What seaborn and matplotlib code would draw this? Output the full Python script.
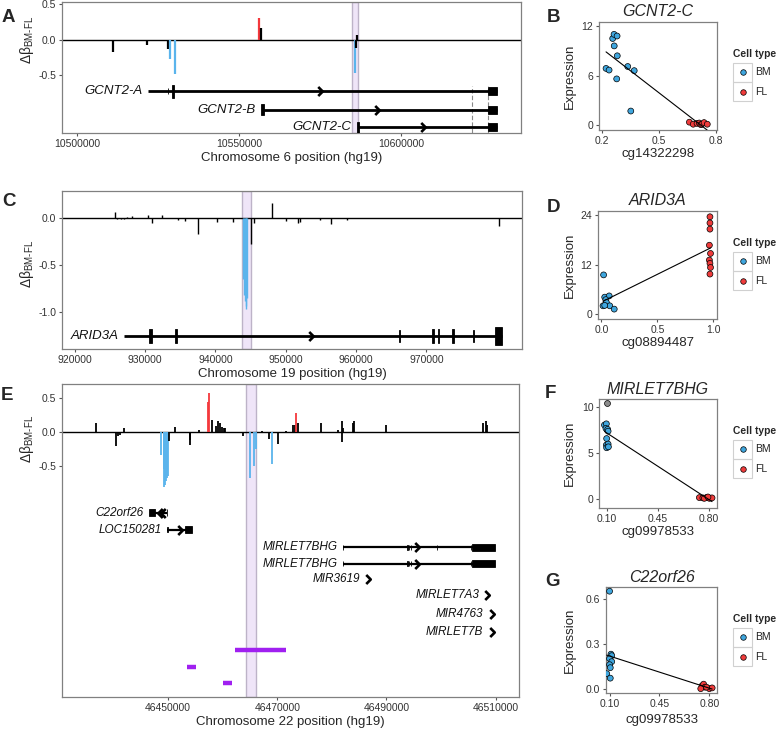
import matplotlib
matplotlib.use("Agg")
import numpy as np
import pandas as pd
import matplotlib.pyplot as plt
import seaborn as sns
from matplotlib.path import Path
from matplotlib.patches import Rectangle
from matplotlib.lines import Line2D

# ---- panel A: chr6 GCNT2 ----
a_pos = [10511100, 10521600, 10528100, 10528700, 10530200, 10556200, 10556800, 10585800, 10586100, 10586300]
a_val = [-0.17, -0.08, -0.13, -0.28, -0.48, 0.31, 0.16, -0.47, -0.12, 0.06]
a_col = ["k", "k", "k", "b", "b", "r", "k", "b", "k", "k"]
a_band = (10584900, 10586700)
a_dash = [10621800, 10626950]
a_xticks = [10500000, 10550000, 10600000]

# ---- panel C: chr19 ARID3A ----
c_pos = [925670, 926060, 926510, 926970, 927480, 928210, 930360, 930930, 932460, 934730,
         935690, 937490, 940270, 942480, 943890, 944060, 944170, 944290, 944400, 944520,
         945080, 945540, 948030, 950010, 951710, 951990, 954830, 956410, 958680, 980300]
c_val = [0.063, -0.01, -0.01, -0.01, 0.01, 0.015, 0.034, -0.05, 0.03, -0.02,
         -0.03, -0.17, -0.04, -0.04, -0.65, -0.82, -0.88, -0.93, -0.96, -0.85,
         -0.28, -0.06, 0.16, -0.03, -0.06, -0.04, -0.02, -0.07, -0.02, -0.085]
c_col = ["k"] * 14 + ["b"] * 6 + ["k"] * 10
c_band = (943780, 945030)
c_xticks = [920000, 930000, 940000, 950000, 960000, 970000]

# ---- panel E: chr22 MIRLET7BHG ----
e_pos = [46436740, 46440530, 46440900, 46441140, 46441870,
         46448780, 46449210, 46449330, 46449510, 46449690, 46449880, 46450060,
         46450180, 46451220, 46453970, 46454090, 46455680, 46457330, 46457520,
         46458070, 46458860, 46459170, 46459470, 46459960, 46460200, 46460450,
         46463630, 46465090, 46465700, 46466010, 46467230, 46468510, 46469120,
         46470220, 46471570, 46472910, 46473160, 46473340, 46473710, 46477920,
         46481040, 46481770, 46481830, 46482080, 46483910, 46484030, 46489840,
         46507750, 46508240, 46508480, 46509580]
e_val = [0.12, -0.21, -0.07, -0.05, 0.06,
         -0.35, -0.55, -0.81, -0.78, -0.72, -0.68, -0.65,
         -0.14, 0.07, -0.20, -0.12, 0.02, 0.44, 0.57,
         0.17, 0.08, 0.15, 0.13, 0.07, 0.05, 0.06,
         -0.07, -0.68, -0.50, -0.25, 0.015, -0.11, -0.47,
         -0.18, 0.01, 0.10, 0.10, 0.27, 0.12, 0.13,
         0.03, 0.15, -0.15, 0.06, 0.12, 0.16, 0.10,
         0.12, 0.15, 0.10, -0.025]
e_col = ["k"] * 5 + ["b"] * 7 + ["k"] * 5 + ["r", "r"] + ["k"] * 8 + ["b"] * 3 + ["k", "k", "b"] \
        + ["k"] * 4 + ["r"] + ["k"] * 12
e_band = (46464180, 46466190)
e_xticks = [46450000, 46470000, 46490000, 46510000]
e_purple_y = [-3.21, -3.46, -3.70]
e_purple_start = [46462230, 46453480, 46460080]
e_purple_end = [46471580, 46455200, 46461620]

# ---- scatter panels ----
b_meth_bm = [0.222, 0.238, 0.257, 0.264, 0.28, 0.265, 0.281, 0.278, 0.336, 0.37, 0.352]
b_expr_bm = [6.87, 6.67, 10.5, 11.0, 10.8, 9.6, 8.4, 5.6, 7.1, 6.6, 1.7]
b_meth_fl = [0.66, 0.68, 0.70, 0.712, 0.72, 0.725, 0.737, 0.754]
b_expr_fl = [0.35, 0.1, 0.2, 0.25, 0.05, 0.1, 0.3, 0.1]

d_meth_bm = [0.02, 0.03, 0.07, 0.04, 0.045, 0.015, 0.075, 0.115, 0.03]
d_expr_bm = [9.5, 4.1, 4.4, 3.5, 2.8, 2.0, 2.0, 1.2, 2.1]
d_meth_fl = [0.97, 0.97, 0.97, 0.965, 0.975, 0.965, 0.97, 0.975, 0.97]
d_expr_fl = [23.6, 22.1, 20.6, 16.7, 14.7, 13.1, 12.3, 11.3, 9.7]

f_meth_bm = [0.085, 0.098, 0.095, 0.107, 0.11, 0.10, 0.098, 0.11, 0.10, 0.112]
f_expr_bm = [8.07, 8.2, 7.7, 7.6, 7.4, 6.6, 5.9, 6.0, 5.6, 5.7]
f_meth_na = [0.10]
f_expr_na = [10.5]
f_meth_fl = [0.736, 0.76, 0.786, 0.805, 0.823, 0.77, 0.795]
f_expr_fl = [0.18, 0.15, 0.2, 0.1, 0.15, 0.1, 0.25]

g_meth_bm = [0.10, 0.11, 0.115, 0.10, 0.115, 0.10, 0.105, 0.08, 0.105]
g_expr_bm = [0.65, 0.23, 0.22, 0.20, 0.18, 0.16, 0.14, 0.10, 0.07]
g_meth_fl = [0.75, 0.76, 0.77, 0.80, 0.82, 0.74, 0.78]
g_expr_fl = [0.02, 0.03, 0.01, 0.0, 0.005, 0.0, 0.01]

W, H = 778, 731
sns.set_style("white")
plt.rcParams["font.family"] = ["Liberation Sans", "DejaVu Sans"]
plt.rcParams["mathtext.fontset"] = "custom"
plt.rcParams["mathtext.rm"] = "Liberation Sans"
plt.rcParams["mathtext.it"] = "Liberation Sans:italic"

purple = "#a020f0"
bar_cols = {"k": "black", "b": "#5ab4ec", "r": "#f4383c"}
pal = {"BM": "#3fa6de", "FL": "#ef3b3b"}

fig = plt.figure(figsize=(W / 100, H / 100), dpi=100)


def box(x0, y0, x1, y1):
    ax = fig.add_axes([x0 / W, 1 - y1 / H, (x1 - x0) / W, (y1 - y0) / H])
    for s in ax.spines.values():
        s.set_color("#808080")
        s.set_linewidth(0.9)
    ax.tick_params(direction="out", length=2.5, width=0.8, color="#555555",
                   labelcolor="#333333", labelsize=7.5, pad=1.5,
                   left=True, bottom=True)
    return ax


chev_r = Path([(-0.5, 1), (0.5, 0), (-0.5, -1)], [Path.MOVETO, Path.LINETO, Path.LINETO])
chev_l = Path([(0.5, 1), (-0.5, 0), (0.5, -1)], [Path.MOVETO, Path.LINETO, Path.LINETO])


def track(ax, pos, val, col, band, lw=1.2):
    ax.axvspan(band[0], band[1], facecolor="#efe5f8", edgecolor="#bdb3c8", lw=1, zorder=0)
    ax.axhline(0, color="black", lw=1, zorder=2)
    ax.vlines(pos, 0, val, colors=[bar_cols[c] for c in col], lw=lw, zorder=3)


def gene(ax, name, y, start, end, exons, arrows, left=False, fs=9.5, lw=2.0):
    if end > start:
        ax.plot([start, end], [y, y], color="black", lw=lw, solid_capstyle="butt", zorder=4)
    for s, e, h in exons:
        ax.add_patch(Rectangle((s, y - h), e - s, 2 * h, fc="black", ec="black", lw=0.6, zorder=4))
    if arrows:
        ax.plot(arrows, [y] * len(arrows), ls="none", marker=chev_l if left else chev_r,
                ms=6.5, mfc="none", mec="black", mew=1.9, zorder=5)
    x_lab = min([start] + [a for a in arrows] + [s for s, e, h in exons])
    off = -6 if end <= start else -4
    ax.annotate(name, (x_lab, y), xytext=(off, 0), textcoords="offset points",
                ha="right", va="center", fontsize=fs, style="italic", color="#111111")


def genomic_labels(ax, chrom, ylab_y, xlab_dy, h_px, w_px):
    ax.set_ylabel(r"$\mathrm{\Delta\beta}_{\mathrm{BM\text{-}FL}}$", fontsize=10)
    ax.yaxis.set_label_coords(-35 / w_px, ylab_y)
    ax.yaxis.label.set_va("center")
    ax.set_xlabel("Chromosome %s position (hg19)" % chrom, fontsize=9.5)
    ax.xaxis.set_label_coords(0.5, -xlab_dy / h_px)
    ax.xaxis.label.set_va("center")


# ---------------- A ----------------
axA = box(62, 2, 521, 133)
track(axA, a_pos, a_val, a_col, a_band, lw=1.6)
axA.vlines(a_dash, -1.32, -0.65, colors="#8a8a8a", lw=0.8, linestyles=(0, (4, 2)), zorder=1)
gene(axA, "GCNT2-A", -0.73, 10521900, 10629600,
     [(10528000, 10528200, 0.04), (10529300, 10530000, 0.09), (10626850, 10629630, 0.055)],
     [10575000])
gene(axA, "GCNT2-B", -0.99, 10557000, 10629600,
     [(10556800, 10557600, 0.08), (10626850, 10629630, 0.055)], [10592600])
gene(axA, "GCNT2-C", -1.24, 10586700, 10629600,
     [(10586300, 10587100, 0.08), (10626850, 10629630, 0.055)], [10606800])
axA.set_xlim(10495370, 10637040)
axA.set_ylim(-1.32, 0.53)
axA.set_xticks(a_xticks)
axA.set_xticklabels([str(v) for v in a_xticks])
axA.set_yticks([-0.5, 0.0, 0.5])
axA.set_yticklabels(["-0.5", "0.0", "0.5"])
genomic_labels(axA, "6", 0.71, 25, 131, 459)

# ---------------- C ----------------
axC = box(62, 191, 522, 349)
track(axC, c_pos, c_val, c_col, c_band, lw=1.0)
gene(axC, "ARID3A", -1.25, 926970, 980700,
     [(930500, 931000, 0.075), (934300, 934600, 0.075), (966100, 966200, 0.065),
      (970850, 971050, 0.075), (971600, 971800, 0.075), (973700, 973950, 0.075),
      (976700, 976800, 0.065), (979730, 980700, 0.095)],
     [953580])
axC.set_xlim(918190, 983600)
axC.set_ylim(-1.387, 0.283)
axC.set_xticks(c_xticks)
axC.set_xticklabels([str(v) for v in c_xticks])
axC.set_yticks([-1.0, -0.5, 0.0])
axC.set_yticklabels(["-1.0", "-0.5", "0.0"])
genomic_labels(axC, "19", 0.54, 25, 158, 460)

# ---------------- E ----------------
axE = box(62, 384, 519, 697)
track(axE, e_pos, e_val, e_col, e_band, lw=1.3)
gene(axE, "C22orf26", -1.19, 46447690, 46449820,
     [(46446460, 46447690, 0.05), (46449800, 46449830, 0.05)],
     [46448480, 46449030], left=True, fs=8.5, lw=1.6)
gene(axE, "LOC150281", -1.44, 46449890, 46453360,
     [(46449880, 46449900, 0.04), (46453060, 46454400, 0.05)],
     [46452140], fs=8.5, lw=1.6)
gene(axE, "MIRLET7BHG", -1.70, 46482080, 46509890,
     [(46482060, 46482090, 0.04), (46493820, 46493850, 0.035), (46494100, 46494130, 0.035),
      (46494420, 46494450, 0.035), (46499200, 46499230, 0.035), (46505430, 46505460, 0.035),
      (46505730, 46509890, 0.05)],
     [46495540], fs=8.5, lw=1.6)
gene(axE, "MIRLET7BHG", -1.94, 46482080, 46509890,
     [(46482060, 46482090, 0.04), (46493820, 46493850, 0.035), (46494100, 46494130, 0.035),
      (46494420, 46494450, 0.035), (46505430, 46505460, 0.035),
      (46505730, 46509890, 0.05)],
     [46495540], fs=8.5, lw=1.6)
gene(axE, "MIR3619", -2.17, 46486670, 46486670, [], [46486670], fs=8.5)
gene(axE, "MIRLET7A3", -2.40, 46508480, 46508480, [], [46508480], fs=8.5)
gene(axE, "MIR4763", -2.68, 46509290, 46509290, [], [46509290], fs=8.5)
gene(axE, "MIRLET7B", -2.94, 46509290, 46509290, [], [46509290], fs=8.5)
axE.hlines(e_purple_y, e_purple_start, e_purple_end, colors=purple, lw=3.2, zorder=4)
axE.set_xlim(46430570, 46514270)
axE.set_ylim(-3.9, 0.70)
axE.set_xticks(e_xticks)
axE.set_xticklabels([str(v) for v in e_xticks])
axE.set_yticks([-0.5, 0.0, 0.5])
axE.set_yticklabels(["-0.5", "0.0", "0.5"])
genomic_labels(axE, "22", 0.825, 25, 313, 457)


# ---------------- scatter panels ----------------
def make_df(mb, eb, mf, ef, mn=(), en=()):
    return pd.DataFrame({
        "meth": list(mb) + list(mf) + list(mn),
        "expr": list(eb) + list(ef) + list(en),
        "cell": ["BM"] * len(mb) + ["FL"] * len(mf) + [None] * len(mn),
    })


def cell_legend(top):
    x0 = 733
    t = top + 32
    fig.text(x0 / W, 1 - t / H, "Cell type", fontweight="bold", fontsize=7.4,
             ha="left", va="center")
    for i, lab in enumerate(["BM", "FL"]):
        y0 = t + 8.7 + i * 19.3
        ym = y0 + 9.6
        fig.add_artist(Rectangle((x0 / W, 1 - (y0 + 19.3) / H), 19 / W, 19.3 / H,
                                 transform=fig.transFigure, fc="none", ec="#d0d0d0", lw=0.8))
        fig.add_artist(Line2D([(x0 + 9.5) / W], [1 - ym / H], transform=fig.transFigure,
                              marker="o", ms=4, mfc=pal[lab], mec="black", mew=0.5, ls="none"))
        fig.text((x0 + 22) / W, 1 - ym / H, lab, fontsize=7.5, ha="left", va="center",
                 color="#222222")


def scatter_panel(px, df, title, xlab, xlim, ylim, xt, xtl, yt, ytl, xlab_dy=24):
    x0, y0, x1, y1 = px
    ax = box(x0, y0, x1, y1)
    known = df[df["cell"].notna()]
    sns.scatterplot(data=known, x="meth", y="expr", hue="cell", hue_order=["BM", "FL"],
                    palette=pal, s=18, edgecolor="black", linewidth=0.5, legend=False,
                    ax=ax, zorder=3)
    na = df[df["cell"].isna()]
    if len(na):
        sns.scatterplot(data=na, x="meth", y="expr", color="#8c8c8c", s=18,
                        edgecolor="black", linewidth=0.5, legend=False, ax=ax, zorder=3)
    sns.regplot(data=df, x="meth", y="expr", scatter=False, ci=None, color="black",
                line_kws={"lw": 0.8, "zorder": 4}, truncate=True, ax=ax)
    ax.set_xlim(*xlim)
    ax.set_ylim(*ylim)
    ax.set_xticks(xt)
    ax.set_xticklabels(xtl)
    ax.set_yticks(yt)
    ax.set_yticklabels(ytl)
    w_px, h_px = x1 - x0, y1 - y0
    ax.set_xlabel(xlab, fontsize=9.5)
    ax.xaxis.set_label_coords(0.5, -xlab_dy / h_px)
    ax.xaxis.label.set_va("center")
    ax.set_ylabel("Expression", fontsize=9.5)
    ax.yaxis.set_label_coords(-(x0 - 570) / w_px, 0.5)
    ax.yaxis.label.set_va("center")
    ax.text(0.5, 1 + 10 / h_px, title, transform=ax.transAxes, ha="center", va="center",
            fontsize=11.5, style="italic")
    cell_legend(y0)
    return ax


scatter_panel((599, 22, 717, 130), make_df(b_meth_bm, b_expr_bm, b_meth_fl, b_expr_fl),
              "GCNT2-C", "cg14322298", (0.185, 0.805), (-0.6, 12.5),
              [0.2, 0.5, 0.8], ["0.2", "0.5", "0.8"], [0, 6, 12], ["0", "6", "12"])
scatter_panel((598, 211, 717, 319), make_df(d_meth_bm, d_expr_bm, d_meth_fl, d_expr_fl),
              "ARID3A", "cg08894487", (-0.03, 1.033), (-1.2, 25.0),
              [0.0, 0.5, 1.0], ["0.0", "0.5", "1.0"], [0, 12, 24], ["0", "12", "24"])
scatter_panel((599, 399, 717, 508),
              make_df(f_meth_bm, f_expr_bm, f_meth_fl, f_expr_fl, f_meth_na, f_expr_na),
              "MIRLET7BHG", "cg09978533", (0.0475, 0.857), (-0.95, 10.9),
              [0.10, 0.45, 0.80], ["0.10", "0.45", "0.80"], [0, 5, 10], ["0", "5", "10"])
scatter_panel((606, 587, 717, 693), make_df(g_meth_bm, g_expr_bm, g_meth_fl, g_expr_fl),
              "C22orf26", "cg09978533", (0.075, 0.854), (-0.029, 0.678),
              [0.10, 0.45, 0.80], ["0.10", "0.45", "0.80"], [0.0, 0.3, 0.6], ["0.0", "0.3", "0.6"],
              xlab_dy=27)

# panel letters
for lab, x, y in [("A", 8, 17), ("B", 553, 17), ("C", 9, 202), ("D", 553, 207),
                  ("E", 7, 395), ("F", 550, 393), ("G", 552, 582)]:
    fig.text(x / W, 1 - y / H, lab, fontsize=13.5, fontweight="bold", ha="center", va="center")

fig.savefig("out.png", dpi=100)
